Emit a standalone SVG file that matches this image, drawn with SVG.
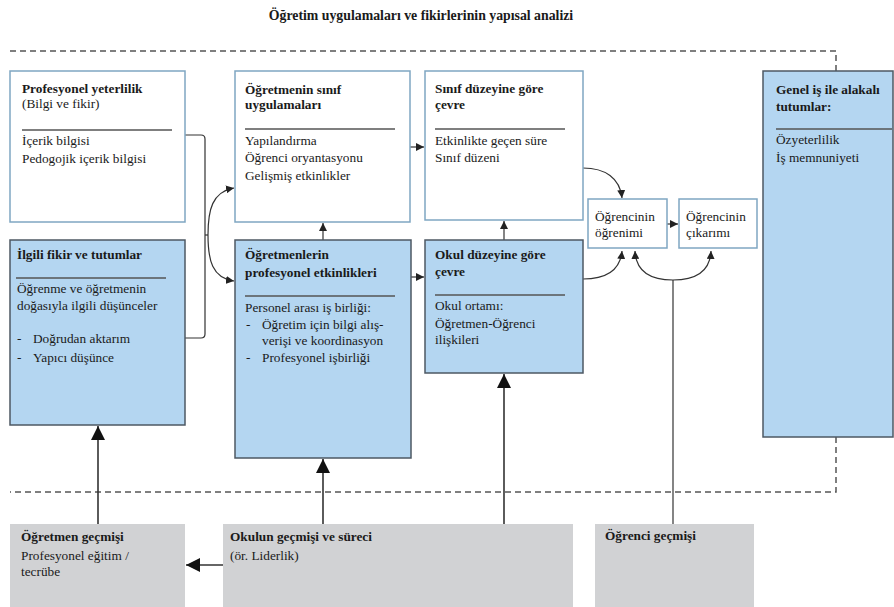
<svg xmlns="http://www.w3.org/2000/svg" width="894" height="607" viewBox="0 0 894 607">
<style>
  text { font-family: "Liberation Serif", "Times New Roman", serif; font-size: 13.3px; fill: #1a1a1a; }
  .b { font-weight: bold; }
  .title { font-size: 13.8px; font-weight: bold; }
  .wbox { fill: #ffffff; stroke: #7fa6c2; stroke-width: 1.5; }
  .bbox { fill: #b4d6f1; stroke: #4d5863; stroke-width: 1.5; }
  .gbox { fill: #d1d2d4; stroke: none; }
  .rule { stroke: #555; stroke-width: 1.3; }
  .dash { fill: none; stroke: #555; stroke-width: 1.5; stroke-dasharray: 6 4; }
  .c { fill: none; stroke: #333; stroke-width: 1.2; }
  .cb { fill: none; stroke: #333; stroke-width: 1.6; }
</style>
<defs>
  <marker id="sa" markerUnits="userSpaceOnUse" markerWidth="8" markerHeight="8" refX="8" refY="4" orient="auto">
    <path d="M0,0 L8,4 L0,8 z" fill="#222"/>
  </marker>
  <marker id="ba" markerUnits="userSpaceOnUse" markerWidth="14" markerHeight="14" refX="14" refY="7" orient="auto">
    <path d="M0,0 L14,7 L0,14 z" fill="#111"/>
  </marker>
</defs>

<text class="title" x="421" y="20" text-anchor="middle">Öğretim uygulamaları ve fikirlerinin yapısal analizi</text>

<g id="boundary">
  <path class="dash" d="M10,51 H836 V71"/>
  <path class="dash" d="M836,437 V492 H10"/>
</g>

<g id="connectors">
  <path class="c" d="M185,135 H201 Q205,135 205,139 V334 Q205,338 201,338 H185"/>
  <path class="c" d="M205,235 H208"/>
  <path class="c" d="M208,235 C208,210 212,192 234,188" marker-end="url(#sa)"/>
  <path class="c" d="M208,235 C208,260 212,278 234,281" marker-end="url(#sa)"/>
  <path class="c" d="M410,147 H424" marker-end="url(#sa)"/>
  <path class="c" d="M323,240 V223" marker-end="url(#sa)"/>
  <path class="c" d="M411,277 H424" marker-end="url(#sa)"/>
  <path class="c" d="M504,240 V221" marker-end="url(#sa)"/>
  <path class="c" d="M583,168 C605,168 620,178 622,198" marker-end="url(#sa)"/>
  <path class="c" d="M583,279 C605,279 620,272 622,251" marker-end="url(#sa)"/>
  <path class="c" d="M667,224 H678" marker-end="url(#sa)"/>
  <path class="c" d="M673,524 V280"/>
  <path class="c" d="M673,280 C650,280 636,272 635,251" marker-end="url(#sa)"/>
  <path class="c" d="M673,280 C696,280 710,272 711,251" marker-end="url(#sa)"/>
  <path class="cb" d="M98,524 V426" marker-end="url(#ba)"/>
  <path class="cb" d="M323,524 V459" marker-end="url(#ba)"/>
  <path class="cb" d="M504,524 V374" marker-end="url(#ba)"/>
  <path class="cb" d="M223,565 H186" marker-end="url(#ba)"/>
</g>

<g id="profesyonel-yeterlilik">
  <rect class="wbox" x="10" y="71" width="175" height="151"/>
  <text class="b" x="22" y="93">Profesyonel yeterlilik</text>
  <text x="22" y="108">(Bilgi ve fikir)</text>
  <line class="rule" x1="22" y1="130" x2="172" y2="130"/>
  <text x="22" y="145">İçerik bilgisi</text>
  <text x="22" y="163">Pedogojik içerik bilgisi</text>
</g>

<g id="ilgili-fikir">
  <rect class="bbox" x="10" y="240" width="175" height="185"/>
  <text class="b" x="17" y="259">İlgili fikir ve tutumlar</text>
  <line class="rule" x1="16" y1="278" x2="166" y2="278"/>
  <text x="17" y="293">Öğrenme ve öğretmenin</text>
  <text x="17" y="310">doğasıyla ilgili düşünceler</text>
  <text x="17" y="343">-</text>
  <text x="33" y="343">Doğrudan aktarım</text>
  <text x="17" y="362">-</text>
  <text x="33" y="362">Yapıcı düşünce</text>
</g>

<g id="sinif-uygulamalari">
  <rect class="wbox" x="235" y="71" width="175" height="151"/>
  <text class="b" x="245" y="94">Öğretmenin sınıf</text>
  <text class="b" x="245" y="109">uygulamaları</text>
  <line class="rule" x1="245" y1="129" x2="395" y2="129"/>
  <text x="245" y="145">Yapılandırma</text>
  <text x="245" y="162">Öğrenci oryantasyonu</text>
  <text x="245" y="180">Gelişmiş etkinlikler</text>
</g>

<g id="sinif-cevre">
  <rect class="wbox" x="425" y="71" width="158" height="149"/>
  <text class="b" x="435" y="93">Sınıf düzeyine göre</text>
  <text class="b" x="435" y="109">çevre</text>
  <line class="rule" x1="435" y1="129" x2="565" y2="129"/>
  <text x="435" y="145">Etkinlikte geçen süre</text>
  <text x="435" y="162">Sınıf düzeni</text>
</g>

<g id="profesyonel-etkinlikler">
  <rect class="bbox" x="235" y="240" width="176" height="218"/>
  <text class="b" x="245" y="259">Öğretmenlerin</text>
  <text class="b" x="245" y="277">profesyonel etkinlikleri</text>
  <line class="rule" x1="245" y1="296" x2="395" y2="296"/>
  <text x="245" y="312">Personel arası iş birliği:</text>
  <text x="246" y="329">-</text>
  <text x="262" y="329">Öğretim için bilgi alış-</text>
  <text x="262" y="345">verişi ve koordinasyon</text>
  <text x="246" y="362">-</text>
  <text x="262" y="362">Profesyonel işbirliği</text>
</g>

<g id="okul-cevre">
  <rect class="bbox" x="425" y="240" width="158" height="133"/>
  <text class="b" x="435" y="259">Okul düzeyine göre</text>
  <text class="b" x="435" y="276">çevre</text>
  <line class="rule" x1="435" y1="295" x2="565" y2="295"/>
  <text x="435" y="310">Okul ortamı:</text>
  <text x="435" y="328">Öğretmen-Öğrenci</text>
  <text x="435" y="344">ilişkileri</text>
</g>

<g id="ogrenci-ogrenimi">
  <rect class="wbox" x="588" y="199" width="79" height="49"/>
  <text x="595" y="221">Öğrencinin</text>
  <text x="595" y="237">öğrenimi</text>
</g>

<g id="ogrenci-cikarimi">
  <rect class="wbox" x="679" y="199" width="78" height="49"/>
  <text x="686" y="221">Öğrencinin</text>
  <text x="686" y="237">çıkarımı</text>
</g>

<g id="genel-tutumlar">
  <rect class="bbox" x="763" y="71" width="130" height="366"/>
  <text class="b" x="776" y="94">Genel iş ile alakalı</text>
  <text class="b" x="776" y="111">tutumlar:</text>
  <line class="rule" x1="776" y1="129" x2="892" y2="129"/>
  <text x="776" y="144">Özyeterlilik</text>
  <text x="776" y="162">İş memnuniyeti</text>
</g>

<g id="ogretmen-gecmisi">
  <rect class="gbox" x="10" y="524" width="175" height="83"/>
  <text class="b" x="21" y="541">Öğretmen geçmişi</text>
  <text x="21" y="560">Profesyonel eğitim /</text>
  <text x="21" y="576">tecrübe</text>
</g>

<g id="okul-gecmisi">
  <rect class="gbox" x="223" y="524" width="350" height="83"/>
  <text class="b" x="230" y="541">Okulun geçmişi ve süreci</text>
  <text x="230" y="560">(ör. Liderlik)</text>
</g>

<g id="ogrenci-gecmisi">
  <rect class="gbox" x="595" y="524" width="159" height="83"/>
  <text class="b" x="605" y="540">Öğrenci geçmişi</text>
</g>
</svg>
